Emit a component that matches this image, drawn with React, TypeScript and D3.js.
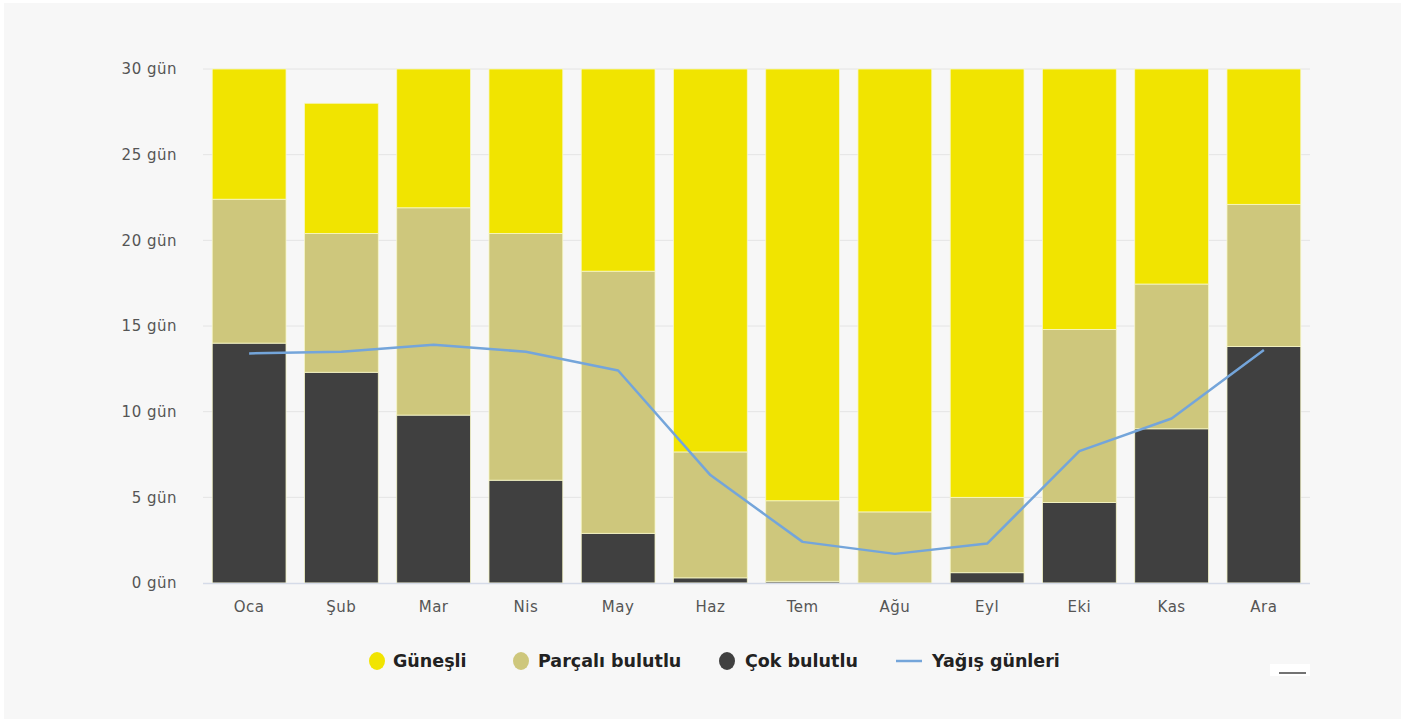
import React from "react";
import * as d3 from "d3";

const months = ["Oca", "Şub", "Mar", "Nis", "May", "Haz", "Tem", "Ağu", "Eyl", "Eki", "Kas", "Ara"];
const cokBulutlu = [14.0, 12.3, 9.8, 6.0, 2.9, 0.3, 0.1, 0, 0.6, 4.7, 9.0, 13.8];
const parcaliBulutlu = [8.4, 8.1, 12.1, 14.4, 15.3, 7.35, 4.7, 4.15, 4.4, 10.1, 8.45, 8.3];
const gunesli = [7.6, 7.6, 8.1, 9.6, 11.8, 22.35, 25.2, 25.85, 25.0, 15.2, 12.55, 7.9];
const yagisGunleri = [13.4, 13.5, 13.9, 13.5, 12.4, 6.3, 2.4, 1.7, 2.3, 7.7, 9.6, 13.6];
const yTicks = [0, 5, 10, 15, 20, 25, 30];

const seriesNames = ["Çok bulutlu", "Parçalı bulutlu", "Güneşli"];
const colors: Record<string, string> = {
  "Çok bulutlu": "#404040",
  "Parçalı bulutlu": "#cec77c",
  "Güneşli": "#f1e400",
};
const lineColor = "#74a5da";

export default function App() {
  const W = 1416, H = 723;
  const left = 203, right = 1310, top = 69, bottom = 583;
  const x = d3.scaleBand<string>().domain(months).range([left, right]).paddingInner(0.2).paddingOuter(0.1);
  const y = d3.scaleLinear().domain([0, 30]).range([bottom, top]);

  const table = months.map((m, i) => ({
    month: m,
    "Çok bulutlu": cokBulutlu[i],
    "Parçalı bulutlu": parcaliBulutlu[i],
    "Güneşli": gunesli[i],
  }));
  const stacked = d3.stack<any>().keys(seriesNames)(table);

  const line = d3
    .line<number>()
    .x((_, i) => (x(months[i]) as number) + x.bandwidth() / 2)
    .y((d) => y(d));

  const font = "'DejaVu Sans', Verdana, sans-serif";

  const legendY = 661;
  const legendItems = [
    { name: "Güneşli", type: "dot", cx: 377, tx: 393 },
    { name: "Parçalı bulutlu", type: "dot", cx: 521, tx: 538 },
    { name: "Çok bulutlu", type: "dot", cx: 727, tx: 745 },
    { name: "Yağış günleri", type: "line", cx: 909, tx: 932 },
  ];

  return (
    <div style={{ position: "absolute", left: 0, top: 0 }}>
      <svg width={W} height={H} style={{ display: "block" }} fontFamily={font}>
        <rect x={0} y={0} width={W} height={H} fill="#ffffff" />
        <rect x={4} y={3} width={1397} height={716} fill="#f7f7f7" />
        {yTicks.map((t) => (
          <g key={t}>
            {t !== 0 && (
              <line x1={left} x2={right} y1={y(t)} y2={y(t)} stroke="#e4e4e4" strokeWidth={1} />
            )}
            <text x={177} y={y(t)} dy="0.35em" textAnchor="end" fontSize={15} letterSpacing={0.5} fill="#555">
              {`${t} gün`}
            </text>
          </g>
        ))}
        {stacked.map((s) => (
          <g key={s.key} fill={colors[s.key]}>
            {s.map((d, i) => {
              const h = y(d[0]) - y(d[1]);
              if (h <= 0) return null;
              return (
                <rect
                  key={i}
                  x={x(months[i])}
                  y={y(d[1])}
                  width={x.bandwidth()}
                  height={h}
                  stroke="#f7f7c8"
                  strokeWidth={0.8}
                />
              );
            })}
          </g>
        ))}
        <line x1={left} x2={right} y1={bottom + 0.5} y2={bottom + 0.5} stroke="#d5dbe8" strokeWidth={1.5} />
        {months.map((m) => (
          <text
            key={m}
            x={(x(m) as number) + x.bandwidth() / 2}
            y={612}
            textAnchor="middle"
            fontSize={15}
            letterSpacing={0.5}
            fill="#555"
          >
            {m}
          </text>
        ))}
        <path d={line(yagisGunleri) || ""} fill="none" stroke={lineColor} strokeWidth={2.5} strokeLinejoin="round" />
        {legendItems.map((it) => (
          <g key={it.name}>
            {it.type === "dot" ? (
              <ellipse cx={it.cx} cy={legendY} rx={8} ry={9} fill={colors[it.name]} />
            ) : (
              <line x1={it.cx - 13} x2={it.cx + 13} y1={legendY} y2={legendY} stroke={lineColor} strokeWidth={2.5} />
            )}
            <text x={it.tx} y={legendY} dy="0.35em" fontSize={17.5} fontWeight="bold" fill="#222">
              {it.name}
            </text>
          </g>
        ))}
        <rect x={1270} y={664} width={40} height={12} fill="#ffffff" />
        <line x1={1279} x2={1306} y1={673} y2={673} stroke="#444" strokeWidth={1.5} />
      </svg>
    </div>
  );
}
